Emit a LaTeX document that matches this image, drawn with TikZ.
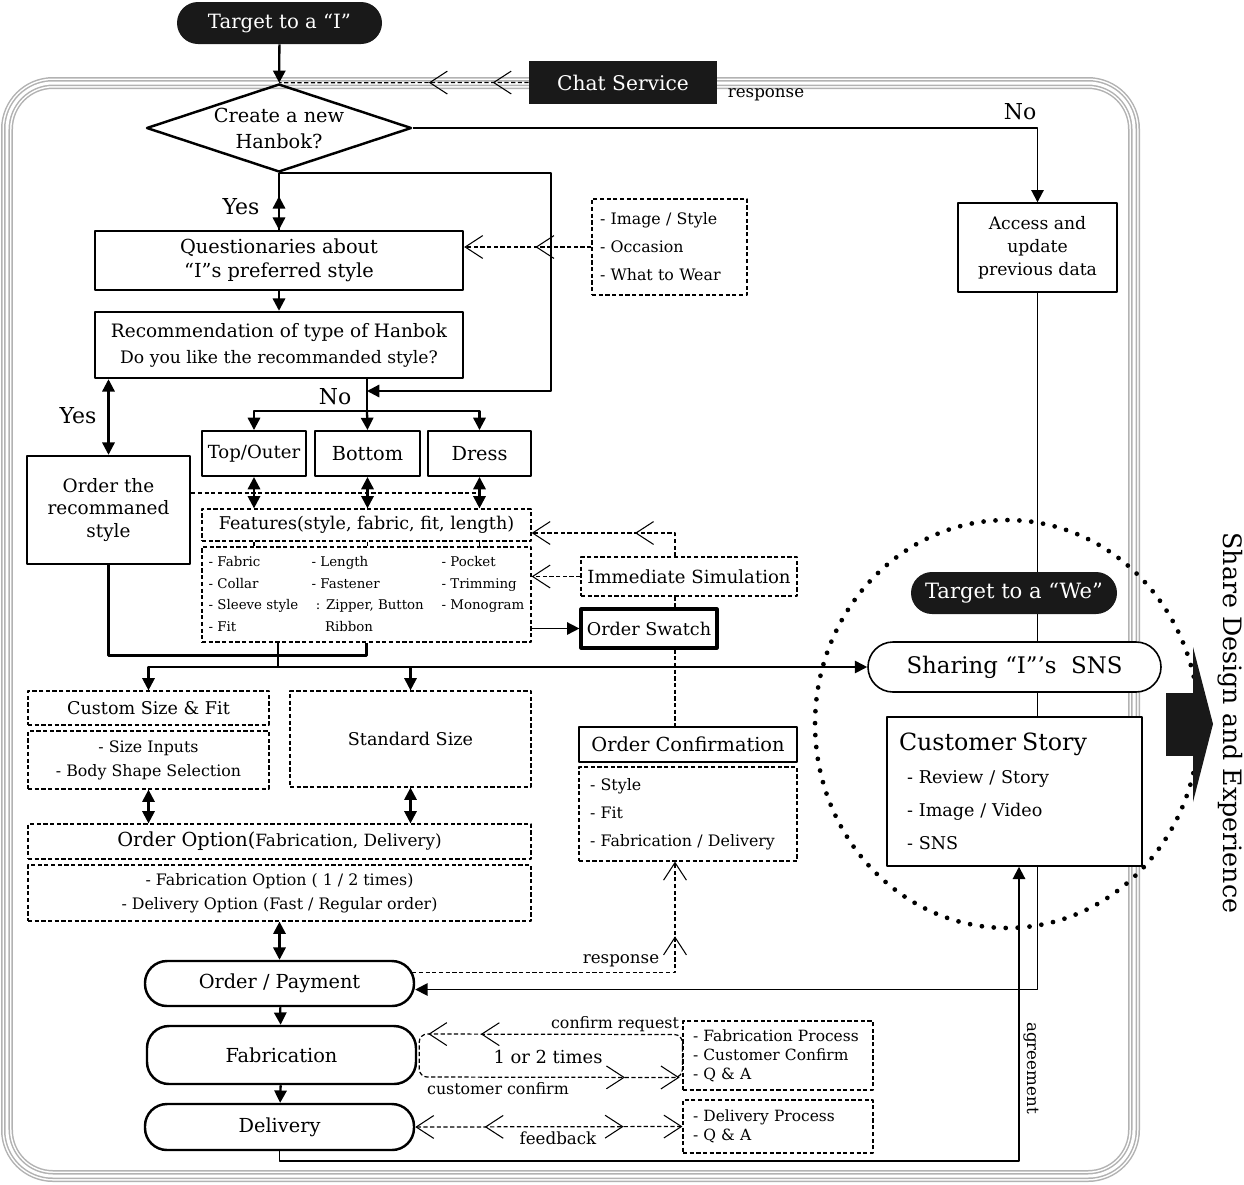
\documentclass[tikz,border=0pt]{standalone}
\usepackage{fontspec}
\setmainfont{DejaVu Serif}
\usetikzlibrary{shapes, positioning, arrows.meta, calc, decorations.markings, backgrounds}
\newcommand\fsz[2]{\fontsize{#1}{#2}\selectfont}
\tikzset{
  openv/.tip={Straight Barb[length=10pt,width=13pt,line width=0.6pt]},
  mk/.style={postaction={decorate, decoration={markings, mark=at position #1 with {\arrow{openv[]}}}}},
  mkr/.style={postaction={decorate, decoration={markings, mark=at position #1 with {\arrowreversed{openv[]}}}}},
  wh/.style 2 args={minimum width=#1*0.02cm, minimum height=#2*0.02cm}
}

\begin{document}
\begin{tikzpicture}[x=0.02cm, y=-0.02cm, line join=round]
\tikzstyle{every node}=[inner sep=0pt, align=center]
\tikzstyle{box}=[draw, line width=1.4pt]
\tikzstyle{thinbox}=[draw, line width=0.8pt]
\tikzstyle{dbox}=[draw, line width=0.7pt, dash pattern=on 2.4pt off 1.4pt]
\tikzstyle{pill}=[draw, line width=1.4pt, rounded corners=0.44cm]
\tikzstyle{blk}=[fill=black!90, text=white, rounded corners=0.42cm]
\tikzstyle{conn}=[line width=1.3pt]
\tikzstyle{flow}=[line width=1.3pt, -{Triangle[length=7pt,width=7pt]}]
\tikzstyle{dflow}=[line width=1.3pt, {Triangle[length=7pt,width=7pt]}-{Triangle[length=7pt,width=7pt]}]
\tikzstyle{dline}=[line width=0.7pt, dash pattern=on 2.4pt off 1.4pt]
\useasboundingbox (0,0) rectangle (1244,1184);

% left column
\node[blk, wh={205}{42}, font=\fsz{11.2}{13}] (Ti) at (279.5,23) {Target to a “I”};
\node[fill=black!90, text=white, wh={188}{43}, font=\fsz{11.5}{13}] (Chat) at (623,82.5) {Chat Service};
\node[diamond, box, aspect=3, wh={265}{88}, font=\fsz{11}{14.8}] (Cr) at (279,128) {Create a new\\Hanbok?};
\node[box, wh={368}{59}, font=\fsz{11}{13.7}] (Qu) at (279,260.5) {Questionaries about\\“I”s preferred style};
\node[dbox, wh={155}{96}, text width=2.78cm, inner xsep=0.16cm, align=left, font=\fsz{9}{15.9}] (Img) at (669.5,247) {- Image / Style\\- Occasion\\- What to Wear};
\node[box, wh={368}{66}, font=\fsz{10.5}{14.8}] (Rec) at (279,345) {Recommendation of type of Hanbok\\{\fsz{9.8}{14.8}Do you like the recommanded style?}};
\node[thinbox, wh={159}{89}, font=\fsz{9.8}{13}] (Acc) at (1037.5,247.5) {Access and\\update\\previous data};
\node[box, wh={163}{108}, font=\fsz{10.5}{12.8}] (Ord) at (108.5,510) {Order the\\recommaned\\style};
\node[draw, line width=1.1pt, wh={104}{45}, font=\fsz{10.3}{13}] (Top) at (254,453.5) {Top/Outer};
\node[draw, line width=1.1pt, wh={105}{45}, font=\fsz{11}{13}] (Bot) at (367.5,453.5) {Bottom};
\node[draw, line width=1.1pt, wh={103}{45}, font=\fsz{11}{13}] (Drs) at (479.5,453.5) {Dress};
\node[dbox, wh={329}{32}, font=\fsz{10}{12}] (Feat) at (366.5,525) {Features(style, fabric, fit, length)};
\node[dbox, wh={329}{95}, font=\fsz{7.6}{12.3}] (Lst) at (366.5,594.5) {\begin{tabular}{@{}p{2.06cm}@{}p{2.6cm}@{}l@{}}
- Fabric & - Length & - Pocket\\
- Collar & - Fastener & - Trimming\\
- Sleeve style & \ : Zipper, Button & - Monogram\\
- Fit & \quad Ribbon & \end{tabular}};
\node[dbox, wh={216}{39}, font=\fsz{10.3}{12}] (Sim) at (689,576.5) {Immediate Simulation};
\node[draw, line width=1.8pt, wh={136}{39}, font=\fsz{10}{12}] (Sw) at (649,628.5) {Order Swatch};
\node[dbox, wh={241}{34}, font=\fsz{10}{12}] (CSF) at (148.5,708) {Custom Size \& Fit};
\node[dbox, wh={241}{58}, font=\fsz{9}{13.7}] (Siz) at (148.5,760) {- Size Inputs\\- Body Shape Selection};
\node[dbox, wh={241}{96}, font=\fsz{10}{12}] (Std) at (410.5,739) {Standard Size};
\node[dbox, wh={503}{35}, font=\fsz{11}{13}] (OO) at (279.5,841.5) {Order Option({\fsz{9.6}{13}Fabrication, Delivery)}};
\node[dbox, wh={503}{56}, font=\fsz{9}{13.7}] (OOd) at (279.5,893) {- Fabrication Option ( 1 / 2 times)\\- Delivery Option (Fast / Regular order)};
\node[thinbox, wh={218}{35}, font=\fsz{11}{13}] (OC) at (688,744.5) {Order Confirmation};
\node[dbox, wh={218}{94}, text width=3.92cm, inner xsep=0.22cm, align=left, font=\fsz{9}{16}] (OCl) at (688,814) {- Style\\- Fit\\- Fabrication / Delivery};
\node[pill, wh={269}{45}, font=\fsz{11}{13}] (OP) at (279.5,983.5) {Order / Payment};
\node[pill, wh={269}{58}, font=\fsz{11}{13}] (Fab) at (281.5,1055) {Fabrication};
\node[pill, wh={269}{46}, font=\fsz{11}{13}] (Del) at (279.5,1127) {Delivery};
\node[dbox, wh={190}{69}, text width=3.4cm, inner xsep=0.2cm, align=left, font=\fsz{8.8}{10.8}] (FP) at (778,1055.5) {- Fabrication Process\\- Customer Confirm\\- Q \& A};
\node[dbox, wh={190}{53}, text width=3.4cm, inner xsep=0.2cm, align=left, font=\fsz{8.8}{10.8}] (DP) at (778,1126.5) {- Delivery Process\\- Q \& A};

% right column
\draw[line width=2.7pt, dash pattern=on 0pt off 6.8pt, line cap=round] (1007,724) ellipse [x radius=3.84cm, y radius=4.08cm];
\fill[black!90] (1166,693) rectangle (1194,756);
\fill[black!90] (1193,647) -- (1213,724) -- (1193,802) -- cycle;
\node[blk, wh={206}{42}, font=\fsz{12}{14}] (We) at (1014,593) {Target to a “We”};
\node[draw, fill=white, line width=0.9pt, rounded corners=0.5cm, wh={293}{50}, font=\fsz{13}{15}] (Sh) at (1014.5,667) {Sharing “I”’s\ \ SNS};
\node[thinbox, fill=white, wh={255}{149}, text width=4.62cm, inner xsep=0.24cm, align=left, font=\fsz{10}{18.8}] (CSt) at (1014.5,791.5) {{\fsz{13.5}{18.8}Customer Story}\\\hspace*{0.16cm}- Review / Story\\\hspace*{0.16cm}- Image / Video\\\hspace*{0.16cm}- SNS};

% labels
\node[font=\fsz{12.5}{14}] (no1) at (1020,112) {No};
\node[font=\fsz{12.5}{14}] (yes1) at (241,207) {Yes};
\node[font=\fsz{12.5}{14}] (yes2) at (78,416) {Yes};
\node[font=\fsz{12.5}{14}] (no2) at (335,397) {No};
\node[font=\fsz{9.5}{11}] (rsp1) at (766,95) {response};
\node[font=\fsz{9.5}{11}] (rsp2) at (621,961) {response};
\node[font=\fsz{9}{11}] (cfr) at (615,1024) {confirm request};
\node[font=\fsz{10.2}{12}] (tms) at (548,1057) {1 or 2 times};
\node[font=\fsz{9}{11}] (ccf) at (498,1089) {customer confirm};
\node[font=\fsz{9.5}{11}] (fbk) at (558,1138) {feedback};
\node[rotate=-90, font=\fsz{9.5}{11}] (agr) at (1031,1068) {agreement};
\node[rotate=-90, font=\fsz{14.4}{16}] (share) at (1230,723) {Share Design and Experience};

\coordinate (mrg) at (367,391);
\coordinate (spl) at (367,411);
\coordinate (jn) at (278,667);

% frame and backbone
\begin{scope}[on background layer]
\foreach \w/\c in {0.24cm/gray!60, 0.18cm/white, 0.12cm/gray!60, 0.06cm/white}
  \draw[\c, line width=\w, rounded corners=0.92cm] (7,83) rectangle (1134,1176);
\draw[conn, line width=1pt] (Acc.south) -- (CSt.north -| Acc.south);
\end{scope}
\draw[flow, line width=1pt] (CSt.south -| Acc.south) |- ($(OP.east)+(0,6)$);

% solid flow
\draw[flow] (Ti) -- (Cr);
\draw[flow, line width=1.1pt] (Cr.east) -| (Acc.north);
\draw[conn] (Cr.south) -- (Qu.north);
\draw[dflow, shorten <=0.46cm] (Cr.south) -- (Qu.north);
\draw[flow] (Cr.south) -- ++(272,0) |- (mrg);
\draw[flow] (Qu) -- (Rec);
\draw[dflow] (Rec.south -| Ord.north) -- (Ord.north);
\draw[conn] (Rec.south -| mrg) -- (spl);
\draw[flow] (spl) -| (Top.north);
\draw[flow] (spl) -- (Bot.north);
\draw[flow] (spl) -| (Drs.north);
\foreach \n in {Top, Bot, Drs} {
  \draw[dflow] (\n.south) -- (\n.south |- Feat.north);
  \draw[line width=0.8pt] (Feat.south -| \n.south) -- (Lst.north -| \n.south);
}
\draw[dline] (Ord.east |- 0,493) -- (Drs.south |- 0,493);
\draw[flow, line width=0.9pt] (Lst.east |- Sw.west) -- (Sw.west);
\draw[conn] (Ord.south) |- ($(Lst.south)+(0,13)$) -- (Lst.south);
\draw[conn] (Lst.south -| jn) -- (jn);
\draw[flow] (jn) -| (CSF.north);
\draw[flow] (jn) -| (Std.north);
\draw[flow, line width=1pt] (jn) -- (Sh.west);
\draw[dflow] (Siz.south) -- (Siz.south |- OO.north);
\draw[dflow] (Std.south) -- (Std.south |- OO.north);
\draw[dflow] (OOd.south -| OP.north) -- (OP.north);
\draw[flow] (OP) -- (Fab);
\draw[flow] (Fab) -- (Del);
\draw[flow, line width=1.1pt] (Del.south) -- ++(0,10) -| (CSt.south -| 1019,0);

% dashed flow
\draw[dline, mk=0.144, mk=0.40] (Chat.west) -- (Cr.north);
\draw[dline, -{openv[]}, mk=0.44] (Img.west) -- (Qu.east |- Img.west);
\draw[dline, -{openv[]}] (Sim.west) -- (Lst.east |- Sim.west);
\draw[dline, -{openv[]}, mk=0.38] (Sim.north -| 675,0) |- ($(Feat.east)+(0,8)$);
\draw[dline] (Sim.south -| 675,0) -- (Sw.north -| 675,0);
\draw[dline] (Sw.south -| 675,0) -- (OC.north -| 675,0);
\draw[dline, -{openv[]}, mk=0.80] ($(OP.east)+(-3,-11)$) -| (OCl.south -| 675,0);
\draw[dline, rounded corners=0.16cm] (FP.west) -- ++(0,-21) -- ($(Fab.east)+(2,-21)$) -- ($(Fab.east)+(2,22)$) -- ($(FP.west)+(0,22)$) -- cycle;
\path[dline, mk=0.772, mk=0.973] ($(FP.west)+(0,-21)$) -- ($(Fab.east)+(4,-21)$);
\path[dline, mk=0.78, mk=0.989] ($(Fab.east)+(4,22)$) -- ($(FP.west)+(0,22)$);
\draw[dline, {openv[]}-{openv[]}, mkr=0.26, mk=0.78] (Del.east) -- (DP.west);
\end{tikzpicture}
\end{document}
